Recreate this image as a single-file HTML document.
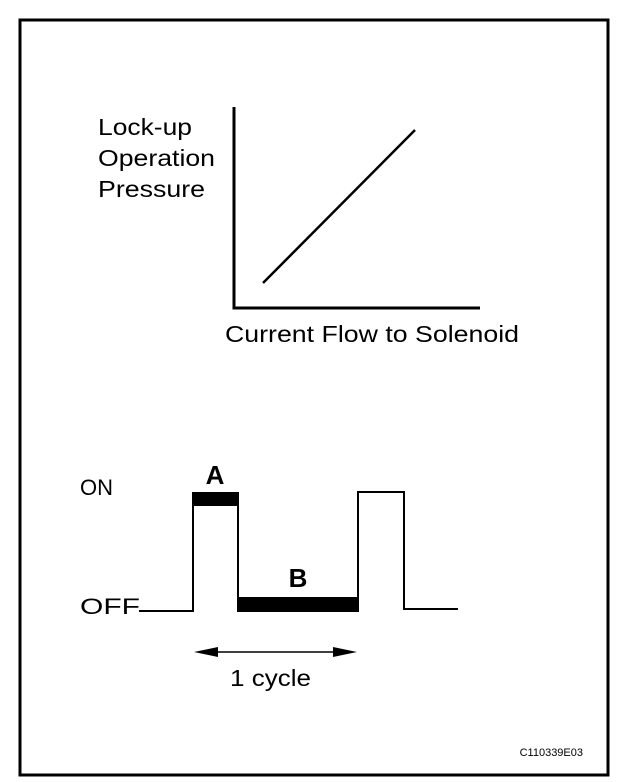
<!DOCTYPE html>
<html><head><meta charset="utf-8"><style>
html,body{margin:0;padding:0;background:#fff;}
</style></head><body>
<svg width="640" height="782" xmlns="http://www.w3.org/2000/svg" style="display:block">
<rect x="0" y="0" width="640" height="782" fill="#fff"/>
<rect x="20" y="20" width="588" height="755" fill="none" stroke="#000" stroke-width="3"/>
<g font-family="Liberation Sans, sans-serif" fill="#000">
<text x="98" y="135" font-size="23" textLength="94" lengthAdjust="spacingAndGlyphs">Lock-up</text>
<text x="98" y="166" font-size="23" textLength="117" lengthAdjust="spacingAndGlyphs">Operation</text>
<text x="98" y="197" font-size="23" textLength="107" lengthAdjust="spacingAndGlyphs">Pressure</text>
<text x="225" y="342" font-size="23" textLength="294" lengthAdjust="spacingAndGlyphs">Current Flow to Solenoid</text>
<text x="80" y="495" font-size="22" textLength="33" lengthAdjust="spacingAndGlyphs">ON</text>
<text x="80" y="614" font-size="22" textLength="60" lengthAdjust="spacingAndGlyphs">OFF</text>
<text x="215" y="484" font-size="26" font-weight="bold" text-anchor="middle">A</text>
<text x="298" y="587" font-size="26" font-weight="bold" text-anchor="middle">B</text>
<text x="230" y="686" font-size="23" textLength="81" lengthAdjust="spacingAndGlyphs">1 cycle</text>
<text x="583" y="756" font-size="11" text-anchor="end">C110339E03</text>
</g>
<g stroke="#000" fill="none">
<polyline points="234,107 234,308 480,308" stroke-width="3"/>
<line x1="263" y1="283" x2="415" y2="130" stroke-width="2.5"/>
<polyline points="139,611 193,611 193,493 238,493 238,611 358,611 358,492 404,492 404,609 458,609" stroke-width="2"/>
<rect x="193" y="493" width="45" height="13" fill="#000" stroke="none"/>
<rect x="239" y="597" width="119" height="14" fill="#000" stroke="none"/>
<line x1="205" y1="652" x2="346" y2="652" stroke-width="1.5"/>
</g>
<polygon points="194,652 218,647 218,657" fill="#000"/>
<polygon points="357,652 333,647 333,657" fill="#000"/>
</svg>
</body></html>
